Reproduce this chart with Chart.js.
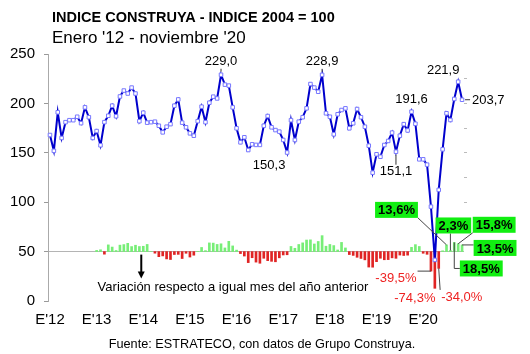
<!DOCTYPE html>
<html>
<head>
<meta charset="utf-8">
<script src="https://cdn.jsdelivr.net/npm/chart.js@4.4.0/dist/chart.umd.min.js"></script>
<style>
  html, body { margin: 0; padding: 0; background: #fff; }
  #wrap { width: 530px; height: 354px; }
</style>
</head>
<body>
<div id="wrap"><canvas id="grafico"></canvas></div>
<script>
const anios = ['12', '13', '14', '15', '16', '17', '18', '19', '20'];
const mesesUltimoAnio = 11; // enero a noviembre '20

// Indice Construya (2004 = 100)
const indice = [
  168.0, 152.0, 191.0, 165.0, 181.0, 183.0, 183.0, 186.5, 180.0, 196.0, 186.0, 165.0,
  172.0, 157.6, 181.0, 187.5, 197.7, 187.0, 207.0, 213.0, 210.0, 216.0, 210.0, 182.0,
  190.6, 180.5, 181.0, 181.5, 177.4, 170.7, 176.4, 179.0, 197.7, 204.0, 180.5, 175.8,
  169.7, 167.3, 182.0, 196.7, 181.0, 200.7, 206.8, 205.0, 229.0, 219.0, 218.0, 196.0,
  174.8, 160.6, 165.7, 152.8, 158.6, 158.0, 158.0, 177.4, 187.2, 175.8, 173.0, 171.4,
  163.0, 150.3, 183.0, 163.0, 181.5, 186.0, 195.0, 219.6, 216.0, 211.8, 228.9, 190.0,
  186.5, 168.7, 189.0, 193.3, 195.0, 174.8, 179.9, 194.3, 186.0, 176.4, 157.2, 129.9,
  148.5, 146.0, 157.9, 162.0, 170.4, 151.1, 167.3, 179.0, 172.6, 191.6, 179.4, 143.4,
  143.4, 138.0, 95.5, 41.6, 112.5, 153.5, 190.0, 183.2, 204.5, 221.9, 203.7
];

// variacion % respecto a igual mes del año anterior (desde enero '13)
const variacion = [
  2.4, 3.7, -5.2, 13.6, 9.2, 2.2, 13.1, 14.2, 16.7, 10.2, 12.9, 10.3,
  10.8, 14.5, 0.0, -3.2, -10.3, -8.7, -14.8, -16.0, -5.9, -5.6, -14.0, -3.4,
  -11.0, -7.3, 0.6, 8.4, 2.0, 17.6, 17.2, 14.5, 15.8, 7.4, 20.8, 11.5,
  3.0, -4.0, -9.0, -22.3, -12.4, -21.3, -23.6, -13.5, -18.3, -19.7, -20.6, -12.6,
  -6.8, -6.4, 10.4, 6.7, 14.4, 17.7, 23.4, 23.8, 15.4, 20.5, 32.3, 10.9,
  14.4, 12.2, 3.3, 18.6, 7.4, -6.0, -7.7, -11.5, -13.9, -16.7, -31.3, -31.6,
  -20.4, -13.5, -16.5, -16.2, -12.6, -13.6, -7.0, -7.9, -7.2, 8.6, 14.1, 10.4,
  -3.4, -5.5, -39.5, -74.3, -34.0, 1.6, 13.6, 2.3, 18.5, 15.8, 13.5
];

const yTicks = [0, 50, 100, 150, 200, 250];

const etiquetas = [];
anios.forEach((a, k) => {
  const n = k === anios.length - 1 ? mesesUltimoAnio : 12;
  for (let m = 0; m < n; m++) etiquetas.push(m === 0 ? "E'" + a : (m + 1) + '/' + a);
});
const barras = Array(12).fill(null).concat(variacion);

const FUENTE = "'Liberation Sans', Arial, sans-serif";
const coma = v => v.toFixed(1).replace('.', ',');

// etiquetas sobre la linea: indice del mes y desplazamiento del texto
const notasLinea = [
  { i: 44, dx: 0, dy: -13, marca: true },
  { i: 70, dx: 0, dy: -13, marca: true },
  { i: 61, dx: -18, dy: 13 },
  { i: 93, dx: 0, dy: -12 },
  { i: 89, dx: 0, dy: 20, marca: true },
  { i: 105, dx: -15, dy: -11 },
  { i: 106, dx: 10, dy: 1, izq: true }
];

// etiquetas de las barras de 2020
const notasBarras = [
  { i: 98, dx: -35, dy: 6 },
  { i: 99, dx: -20, dy: 9, sinLinea: true },
  { i: 100, dx: 23, dy: 28 },
  { i: 102, dx: -50, dy: -35 },
  { i: 103, dx: 3, dy: -25 },
  { i: 104, dx: 27, dy: 26, codo: true },
  { i: 105, dx: 36, dy: -19 },
  { i: 106, dx: 33, dy: 3 }
];

const notas = {
  id: 'notas',
  afterDraw(chart) {
    const { ctx, chartArea } = chart;
    const x = chart.scales.x, y = chart.scales.y, y2 = chart.scales.y2;
    ctx.save();

    // titulo
    ctx.fillStyle = '#000';
    ctx.textBaseline = 'middle';
    ctx.textAlign = 'left';
    ctx.font = 'bold 14.5px ' + FUENTE;
    ctx.fillText('INDICE CONSTRUYA - INDICE 2004 = 100', chartArea.left + 4, 18);
    ctx.font = '17px ' + FUENTE;
    ctx.fillText("Enero '12 - noviembre '20", chartArea.left + 4, 38);

    // fuente
    ctx.font = '12.7px ' + FUENTE;
    ctx.textAlign = 'center';
    ctx.fillText('Fuente: ESTRATECO, con datos de Grupo Construya.', 262, 344);

    // valores de la linea
    ctx.font = '13px ' + FUENTE;
    ctx.strokeStyle = '#333';
    ctx.lineWidth = 1;
    notasLinea.forEach(n => {
      const px = x.getPixelForValue(n.i), py = y.getPixelForValue(indice[n.i]);
      const tx = px + n.dx, ty = py + n.dy;
      ctx.textAlign = n.izq ? 'left' : 'center';
      ctx.fillText(coma(indice[n.i]), tx, ty);
      if (n.marca) {
        ctx.beginPath();
        if (n.dy < 0) { ctx.moveTo(px, ty + 7); ctx.lineTo(px, py - 3); }
        else { ctx.moveTo(px, py + 3); ctx.lineTo(px, ty - 7); }
        ctx.stroke();
      }
      if (n.izq) {
        ctx.beginPath();
        ctx.moveTo(px + 3, py); ctx.lineTo(tx - 2, py);
        ctx.stroke();
      }
    });

    // flecha y leyenda de las barras
    const y50 = y.getPixelForValue(50);
    const xa = x.getPixelForValue(24) - 2;
    ctx.strokeStyle = '#000';
    ctx.lineWidth = 2;
    ctx.beginPath();
    ctx.moveTo(xa, y50 + 3); ctx.lineTo(xa, y50 + 22);
    ctx.stroke();
    ctx.fillStyle = '#000';
    ctx.beginPath();
    ctx.moveTo(xa - 3.5, y50 + 20); ctx.lineTo(xa + 3.5, y50 + 20); ctx.lineTo(xa, y50 + 27);
    ctx.closePath(); ctx.fill();
    ctx.font = '13px ' + FUENTE;
    ctx.textAlign = 'left';
    ctx.fillText('Variación respecto a igual mes del año anterior', x.getPixelForValue(12) + 1, y50 + 36);

    // etiquetas de variacion
    notasBarras.forEach(n => {
      const v = barras[n.i];
      const bx = x.getPixelForValue(n.i), by = y2.getPixelForValue(v);
      const cx = bx + n.dx, cy = by + n.dy;
      const txt = coma(v) + '%';
      let w, h, x0, y0;
      if (v >= 0) {
        ctx.font = 'bold 13px ' + FUENTE;
        w = ctx.measureText(txt).width + 6; h = 16;
      } else {
        ctx.font = '13px ' + FUENTE;
        w = ctx.measureText(txt).width + 2; h = 13;
      }
      x0 = cx - w / 2; y0 = cy - h / 2;
      if (!n.sinLinea) {
        ctx.strokeStyle = '#444';
        ctx.lineWidth = 1;
        ctx.beginPath();
        ctx.moveTo(bx, by);
        if (n.codo) {
          ctx.lineTo(bx, cy); ctx.lineTo(x0, cy);
        } else {
          const qx = Math.min(Math.max(bx, x0), x0 + w);
          const qy = Math.min(Math.max(by, y0), y0 + h);
          ctx.lineTo(qx, qy);
        }
        ctx.stroke();
      }
      if (v >= 0) {
        ctx.fillStyle = '#11ee11';
        ctx.fillRect(x0, y0, w, h);
        ctx.fillStyle = '#000';
      } else {
        ctx.fillStyle = '#ee2222';
      }
      ctx.textAlign = 'center';
      ctx.fillText(txt, cx, cy + 1);
    });
    ctx.restore();
  }
};

new Chart(document.getElementById('grafico'), {
  type: 'bar',
  data: {
    labels: etiquetas,
    datasets: [{
      type: 'line',
      label: 'Indice',
      data: indice,
      borderColor: '#0000cc',
      borderWidth: 2,
      pointStyle: 'rect',
      pointRadius: 2.5,
      pointBackgroundColor: '#ffffff',
      pointBorderColor: '#7777ff',
      pointBorderWidth: 1,
      tension: 0,
      order: 0,
      yAxisID: 'y'
    }, {
      type: 'bar',
      label: 'Variacion',
      data: barras,
      backgroundColor: barras.map(v => v >= 0 ? '#77ee77' : '#e02424'),
      barThickness: 2,
      order: 1,
      yAxisID: 'y2'
    }]
  },
  options: {
    responsive: true,
    maintainAspectRatio: false,
    animation: false,
    layout: { padding: { top: 54, left: 1, right: 63, bottom: 15 } },
    plugins: { legend: { display: false }, tooltip: { enabled: false } },
    scales: {
      x: {
        offset: true,
        grid: { display: false, drawTicks: false },
        border: { display: false },
        ticks: {
          autoSkip: false,
          maxRotation: 0,
          padding: 10,
          color: '#000',
          font: { size: 15, family: FUENTE },
          callback: function (val, i) { return i % 12 === 0 ? etiquetas[i] : ''; }
        }
      },
      y: {
        min: 0,
        max: 250,
        afterBuildTicks: s => { s.ticks = yTicks.map(v => ({ value: v })); },
        grid: {
          color: c => (c.tick && c.tick.value === 50) ? '#b4b4b4' : 'rgba(0,0,0,0)',
          tickColor: '#999',
          tickLength: 4
        },
        border: { display: true, color: '#aaa' },
        ticks: { padding: 9, color: '#000', font: { size: 15, family: FUENTE } }
      },
      yr: {
        position: 'right',
        min: 0,
        max: 250,
        ticks: { display: false, stepSize: 25 },
        grid: {
          drawOnChartArea: false,
          tickLength: 3,
          tickColor: c => (c.tick && c.tick.value >= 75 && c.tick.value <= 225) ? '#bbb' : 'rgba(0,0,0,0)'
        },
        border: { display: false }
      },
      y2: {
        display: false,
        min: -100,
        max: 400
      }
    }
  },
  plugins: [notas]
});
</script>
</body>
</html>
